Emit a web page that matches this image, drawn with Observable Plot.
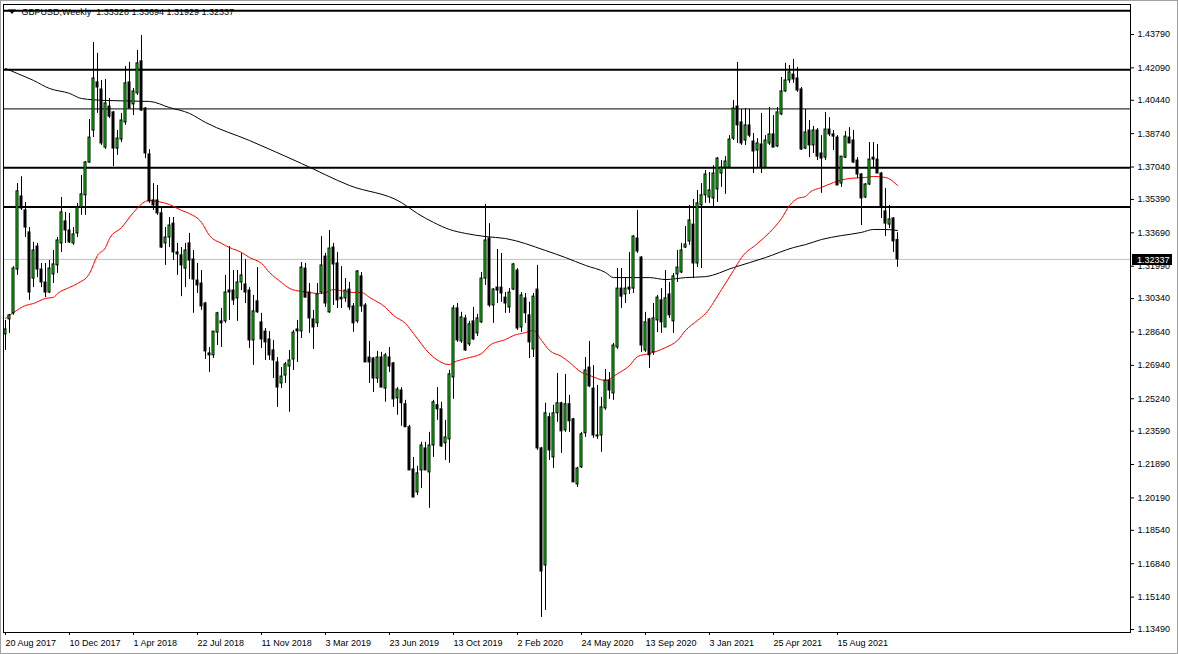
<!DOCTYPE html>
<html><head><meta charset="utf-8">
<script src="https://cdn.jsdelivr.net/npm/d3@7"></script>
<script src="https://cdn.jsdelivr.net/npm/@observablehq/plot@0.6"></script>
<style>
html,body{margin:0;padding:0;background:#fff;}
#chart{width:1178px;height:654px;overflow:hidden;}
#chart svg{display:block;outline:1px solid #a0a0a0;outline-offset:-1px;}
</style></head><body><div id="chart"></div>
<script>
const symbol = "GBPUSD";
const timeframe = "Weekly";

const open = [1.2852,1.2928,1.2959,1.3182,1.3554,1.3483,1.3371,1.3136,1.3299,1.3182,1.3116,1.3065,1.3157,1.3203,1.3315,1.3427,1.3381,1.3315,1.3366,1.3498,1.3560,1.3727,1.3890,1.4135,1.4099,1.3803,1.4012,1.3982,1.3798,1.3844,1.3931,1.4135,1.4023,1.4079,1.4242,1.4002,1.3768,1.3534,1.3534,1.3468,1.3315,1.3345,1.3416,1.3269,1.3254,1.3187,1.3315,1.3233,1.3126,1.3111,1.3009,1.2755,1.2745,1.2861,1.2918,1.2918,1.3075,1.3075,1.3035,1.3116,1.3106,1.3075,1.2821,1.3020,1.2913,1.2866,1.2826,1.2770,1.2709,1.2602,1.2642,1.2688,1.2724,1.2877,1.2867,1.3187,1.3065,1.2928,1.2908,1.3065,1.3248,1.2964,1.3294,1.3213,1.3039,1.3035,1.3080,1.2994,1.2918,1.3147,1.2999,1.2734,1.2729,1.2627,1.2734,1.2576,1.2734,1.2704,1.2526,1.2566,1.2496,1.2379,1.2164,1.2047,1.2159,1.2271,1.2149,1.2286,1.2491,1.2470,1.2297,1.2317,1.2632,1.2984,1.2816,1.2933,1.2801,1.2918,1.2857,1.2913,1.3136,1.3340,1.2999,1.3090,1.3090,1.3039,1.2989,1.3080,1.3177,1.2887,1.3035,1.2949,1.2775,1.3080,1.2271,1.1675,1.2430,1.2225,1.2450,1.2501,1.2363,1.2496,1.2419,1.2088,1.2175,1.2348,1.2683,1.2576,1.2337,1.2337,1.2475,1.2617,1.2551,1.2785,1.3085,1.3055,1.3090,1.3085,1.3340,1.3243,1.2770,1.2928,1.2760,1.2923,1.3025,1.2887,1.3055,1.2918,1.3157,1.3167,1.3294,1.3325,1.3411,1.3213,1.3509,1.3560,1.3549,1.3544,1.3590,1.3671,1.3701,1.3701,1.3849,1.4012,1.3931,1.3839,1.3916,1.3834,1.3788,1.3819,1.3701,1.3824,1.3870,1.3809,1.3972,1.4089,1.4145,1.4175,1.4155,1.4099,1.3798,1.3890,1.3814,1.3890,1.3773,1.3752,1.3895,1.3870,1.3854,1.3620,1.3752,1.3854,1.3839,1.3737,1.3666,1.3549,1.3615,1.3752,1.3742,1.3671,1.3478,1.3411,1.3442,1.33328];
const high = [1.2923,1.2954,1.3197,1.3620,1.3655,1.3524,1.3396,1.3320,1.3315,1.3213,1.3213,1.3228,1.3279,1.3345,1.3549,1.3473,1.3468,1.3396,1.3519,1.3661,1.3732,1.3946,1.4338,1.4283,1.4145,1.4150,1.4053,1.3987,1.3890,1.3977,1.4216,1.4237,1.4104,1.4298,1.4374,1.4007,1.3793,1.3620,1.3610,1.3493,1.3396,1.3447,1.3447,1.3315,1.3294,1.3315,1.3366,1.3279,1.3213,1.3177,1.3015,1.2785,1.2866,1.2964,1.2984,1.3152,1.3299,1.3177,1.3177,1.3264,1.3233,1.3090,1.3050,1.3192,1.2959,1.2882,1.2866,1.2821,1.2734,1.2683,1.2709,1.2770,1.2872,1.2923,1.3218,1.3213,1.3111,1.2974,1.3111,1.3350,1.3264,1.3381,1.3315,1.3269,1.3197,1.3136,1.3116,1.3009,1.3177,1.3167,1.3009,1.2816,1.2734,1.2765,1.2760,1.2755,1.2785,1.2709,1.2581,1.2581,1.2516,1.2389,1.2225,1.2180,1.2302,1.2302,1.2353,1.2516,1.2581,1.2506,1.2414,1.2668,1.2999,1.3009,1.2964,1.2949,1.2918,1.2989,1.2954,1.3167,1.3514,1.3416,1.3085,1.3284,1.3264,1.3065,1.3085,1.3213,1.3187,1.3065,1.3060,1.3015,1.3060,1.3203,1.2276,1.2501,1.2450,1.2491,1.2653,1.2506,1.2648,1.2541,1.2424,1.2175,1.2353,1.2734,1.2816,1.2693,1.2592,1.2531,1.2673,1.2658,1.2806,1.3187,1.3187,1.3141,1.3269,1.3355,1.3483,1.3248,1.2964,1.2933,1.3009,1.3050,1.3085,1.3177,1.3116,1.3162,1.3279,1.3315,1.3401,1.3509,1.3539,1.3585,1.3620,1.3686,1.3676,1.3711,1.3752,1.3737,1.3757,1.3864,1.4043,1.4237,1.3997,1.4002,1.3997,1.3875,1.3849,1.3977,1.3864,1.4007,1.3966,1.4007,1.4160,1.4232,1.4221,1.4252,1.4211,1.4109,1.3997,1.3941,1.3911,1.3900,1.3864,1.3982,1.3956,1.3890,1.3864,1.3757,1.3885,1.3905,1.3890,1.3752,1.3671,1.3620,1.3829,1.3829,1.3819,1.3676,1.3595,1.3509,1.3447,1.33694];
const low = [1.2770,1.2857,1.2949,1.3152,1.3483,1.3345,1.3025,1.3090,1.3141,1.3090,1.3039,1.3060,1.3111,1.3162,1.3269,1.3315,1.3315,1.3305,1.3345,1.3458,1.3458,1.3722,1.3854,1.3977,1.3814,1.3793,1.3951,1.3706,1.3763,1.3829,1.3916,1.4002,1.3966,1.4069,1.3987,1.3747,1.3519,1.3483,1.3458,1.3289,1.3203,1.3294,1.3228,1.3152,1.3044,1.3090,1.3131,1.2959,1.3060,1.2974,1.2724,1.2658,1.2729,1.2795,1.2785,1.2908,1.2923,1.2999,1.2918,1.3075,1.3009,1.2780,1.2694,1.2959,1.2780,1.2719,1.2719,1.2627,1.2480,1.2576,1.2602,1.2455,1.2668,1.2709,1.2831,1.3039,1.2857,1.2775,1.2887,1.3055,1.2989,1.2959,1.2999,1.2984,1.2984,1.3015,1.2974,1.2862,1.2908,1.2964,1.2709,1.2602,1.2556,1.2602,1.2581,1.2506,1.2658,1.2480,1.2440,1.2384,1.2379,1.2159,1.2021,1.2031,1.2067,1.2159,1.1966,1.2225,1.2414,1.2276,1.2210,1.2195,1.2521,1.2811,1.2806,1.2765,1.2790,1.2821,1.2841,1.2908,1.3101,1.2989,1.2908,1.3009,1.3015,1.2959,1.2959,1.3075,1.2872,1.2862,1.2908,1.2729,1.2734,1.2261,1.1410,1.1446,1.2210,1.2169,1.2404,1.2246,1.2353,1.2353,1.2098,1.2072,1.2169,1.2327,1.2581,1.2322,1.2317,1.2251,1.2465,1.2521,1.2516,1.2775,1.2984,1.3009,1.3055,1.3060,1.3264,1.2760,1.2760,1.2678,1.2745,1.2861,1.2857,1.2887,1.2933,1.2857,1.3116,1.3162,1.3289,1.3305,1.3136,1.3192,1.3187,1.3519,1.3519,1.3498,1.3524,1.3600,1.3565,1.3696,1.3839,1.3824,1.3814,1.3814,1.3854,1.3671,1.3701,1.3671,1.3701,1.3814,1.3803,1.3803,1.3966,1.4084,1.4130,1.4130,1.4084,1.3788,1.3793,1.3752,1.3773,1.3737,1.3570,1.3737,1.3859,1.3788,1.3610,1.3600,1.3747,1.3824,1.3722,1.3645,1.3406,1.3544,1.3610,1.3701,1.3671,1.3442,1.3350,1.3391,1.3269,1.31929];
const close = [1.2877,1.2949,1.3187,1.3580,1.3493,1.3396,1.3065,1.3279,1.3182,1.3116,1.3065,1.3187,1.3208,1.3330,1.3473,1.3381,1.3320,1.3361,1.3498,1.3565,1.3727,1.3854,1.4155,1.4109,1.3824,1.4028,1.3961,1.3798,1.3849,1.3941,1.4130,1.4002,1.4089,1.4232,1.3992,1.3773,1.3529,1.3509,1.3468,1.3294,1.3345,1.3406,1.3269,1.3259,1.3203,1.3279,1.3228,1.3131,1.3101,1.2994,1.2765,1.2745,1.2866,1.2959,1.2908,1.3065,1.3065,1.3025,1.3116,1.3152,1.3065,1.2821,1.2969,1.2964,1.2826,1.2811,1.2745,1.2719,1.2581,1.2637,1.2699,1.2719,1.2861,1.2867,1.3192,1.3039,1.2933,1.2887,1.3055,1.3203,1.3009,1.3289,1.3208,1.3025,1.3030,1.3075,1.2989,1.2908,1.3172,1.2994,1.2709,1.2709,1.2627,1.2734,1.2581,1.2745,1.2688,1.2521,1.2571,1.2501,1.2379,1.2159,1.2021,1.2144,1.2286,1.2159,1.2286,1.2506,1.2470,1.2281,1.2327,1.2648,1.2984,1.2821,1.2938,1.2770,1.2903,1.2826,1.2933,1.3136,1.3330,1.2999,1.3080,1.3075,1.3060,1.3009,1.3065,1.3208,1.2882,1.3050,1.2959,1.2811,1.3044,1.2271,1.1644,1.2450,1.2261,1.2450,1.2501,1.2358,1.2496,1.2409,1.2098,1.2169,1.2343,1.2668,1.2587,1.2337,1.2332,1.2480,1.2617,1.2566,1.2795,1.3085,1.3044,1.3085,1.3080,1.3350,1.3274,1.2795,1.2913,1.2745,1.2933,1.3039,1.2913,1.3035,1.2949,1.3147,1.3192,1.3279,1.3309,1.3432,1.3213,1.3519,1.3560,1.3666,1.3585,1.3671,1.3747,1.3701,1.3732,1.3844,1.4002,1.3916,1.3824,1.3916,1.3864,1.3783,1.3824,1.3701,1.3839,1.3870,1.3803,1.3982,1.4089,1.4145,1.4186,1.4150,1.4094,1.3793,1.3880,1.3814,1.3890,1.3757,1.3747,1.3895,1.3870,1.3859,1.3610,1.3757,1.3859,1.3824,1.3727,1.3666,1.3544,1.3615,1.3742,1.3742,1.3671,1.3498,1.3416,1.3437,1.3325,1.32337];

// moving averages: [bar index, value]
const maRedIndex = [0,2,5,7,10,12,13,16,18,21,23,25,26,29,32,35,36,38,41,44,46,49,51,54,56,59,61,64,66,69,71,74,76,78,80,82,85,87,89,91,95,97,100,102,106,111,112,115,119,121,125,127,130,132,134,136,139,141,144,146,150,153,156,158,161,165,168,170,173,175,179,182,184,188,191,194,196,198,200,201,204,207,211,215,217,220,223];
const maRedValue = [1.2933,1.2963,1.2999,1.3009,1.3035,1.3040,1.3060,1.3091,1.3111,1.3162,1.3254,1.3294,1.3340,1.3396,1.3473,1.3529,1.3534,1.3529,1.3513,1.3483,1.3467,1.3422,1.3355,1.3315,1.3294,1.3269,1.3243,1.3213,1.3167,1.3116,1.3086,1.3070,1.3065,1.3060,1.3065,1.3080,1.3070,1.3065,1.3065,1.3040,1.2989,1.2948,1.2907,1.2856,1.2754,1.2698,1.2709,1.2729,1.2754,1.2795,1.2826,1.2846,1.2861,1.2872,1.2821,1.2770,1.2739,1.2709,1.2658,1.2643,1.2617,1.2652,1.2693,1.2739,1.2754,1.2785,1.2821,1.2872,1.2923,1.2958,1.3080,1.3177,1.3243,1.3315,1.3371,1.3442,1.3508,1.3544,1.3554,1.3574,1.3600,1.3625,1.3646,1.3651,1.3656,1.3651,1.3610];
const maBlackIndex = [0,3,7,11,16,19,25,36,41,46,50,61,74,86,99,103,107,111,115,120,125,135,140,145,150,152,157,161,165,170,175,182,190,197,200,204,209,214,217,220,223];
const maBlackValue = [1.4206,1.4180,1.4145,1.4104,1.4079,1.4053,1.4043,1.4038,1.4007,1.3977,1.3931,1.3839,1.3722,1.3610,1.3523,1.3467,1.3422,1.3386,1.3366,1.3350,1.3340,1.3279,1.3243,1.3203,1.3167,1.3141,1.3141,1.3141,1.3131,1.3141,1.3146,1.3192,1.3243,1.3294,1.3309,1.3335,1.3355,1.3371,1.3386,1.3386,1.3381];

const levelThick = [1.4500, 1.4200, 1.3700, 1.3500];
const levelThin = [1.4000];

const dateTickIndex = [0,16,32,48,64,80,96,112,128,144,160,176,192,208];
const dateLabels = ["20 Aug 2017","10 Dec 2017","1 Apr 2018","22 Jul 2018","11 Nov 2018","3 Mar 2019","23 Jun 2019","13 Oct 2019","2 Feb 2020","24 May 2020","13 Sep 2020","3 Jan 2021","25 Apr 2021","15 Aug 2021"];
const priceTicks = [1.43790,1.42090,1.40440,1.38740,1.37040,1.35390,1.33690,1.31990,1.30340,1.28640,1.26940,1.25240,1.23590,1.21890,1.20190,1.18540,1.16840,1.15140,1.13490];

const bars = open.map((o, i) => ({i, o, h: high[i], l: low[i], c: close[i]}));
const last = bars[bars.length - 1];
const maRed = maRedIndex.map((i, k) => ({i, v: maRedValue[k]}));
const maBlack = maBlackIndex.map((i, k) => ({i, v: maBlackValue[k]}));
const header = `${symbol},${timeframe}\u00a0\u00a0${last.o.toFixed(5)} ${last.h.toFixed(5)} ${last.l.toFixed(5)} ${last.c.toFixed(5)}`;
const FONT = "'Liberation Sans', Arial, sans-serif";

function priceLabel(index, scales, values, dims) {
  const y = Math.round(scales.y(last.c));
  const x0 = dims.width - dims.marginRight;
  const g = d3.create("svg:g");
  g.append("rect").attr("x", x0 + 2).attr("y", y - 5).attr("width", 40).attr("height", 11).attr("fill", "#000");
  g.append("text").attr("x", x0 + 7).attr("y", y + 0.5).attr("dy", "0.35em").attr("text-anchor", "start")
    .attr("fill", "#fff").attr("font-size", 9).attr("font-family", FONT).text(last.c.toFixed(5));
  return g.node();
}

function headerMarker(index, scales, values, dims) {
  const x = dims.marginLeft + 9, y = dims.marginTop + 8;
  const g = d3.create("svg:g");
  g.append("path").attr("d", `M${x - 4},${y - 2.5}L${x + 4},${y - 2.5}L${x},${y + 2}Z`).attr("fill", "#000");
  return g.node();
}

const chart = Plot.plot({
  width: 1178,
  height: 654,
  marginLeft: 3,
  marginTop: 4,
  marginRight: 48,
  marginBottom: 22,
  style: {fontFamily: FONT, fontSize: "9px", background: "#fff", color: "#000", overflow: "visible"},
  x: {type: "linear", domain: [-0.5, 281.25], axis: null},
  y: {domain: [1.13337, 1.45317], axis: null},
  marks: [
    Plot.ruleY([last.c], {stroke: "#c0c0c0", strokeWidth: 1}),
    Plot.ruleY(levelThin, {stroke: "#000", strokeWidth: 1}),
    Plot.ruleY(levelThick, {stroke: "#000", strokeWidth: 2}),
    Plot.line(maBlack, {x: "i", y: "v", stroke: "#000", strokeWidth: 1, curve: "monotone-x"}),
    Plot.line(maRed, {x: "i", y: "v", stroke: "#ff0000", strokeWidth: 1, curve: "monotone-x"}),
    Plot.ruleX(bars, {x: "i", y1: "l", y2: "h", stroke: "#000", strokeWidth: 1}),
    Plot.rect(bars, {
      x1: d => d.i - 0.25, x2: d => d.i + 0.25,
      y1: "o", y2: "c",
      fill: d => d.c >= d.o ? "#00ff00" : "#000",
      stroke: "#000", strokeWidth: 1
    }),
    Plot.frame({stroke: "#000"}),
    Plot.axisX(dateTickIndex, {
      anchor: "bottom", tickSize: 3, tickPadding: 4, textAnchor: "start", label: null,
      tickFormat: d => dateLabels[dateTickIndex.indexOf(d)], fontSize: 9
    }),
    Plot.axisY(priceTicks, {
      anchor: "right", tickSize: 3, tickPadding: 4, label: null,
      tickFormat: d => d.toFixed(5), fontSize: 9
    }),
    Plot.text([header], {frameAnchor: "top-left", dx: 18, dy: 4, textAnchor: "start", lineAnchor: "top", fontSize: 9, fill: "#000"}),
    headerMarker,
    priceLabel
  ]
});
document.getElementById("chart").appendChild(chart);
</script>
</body></html>
